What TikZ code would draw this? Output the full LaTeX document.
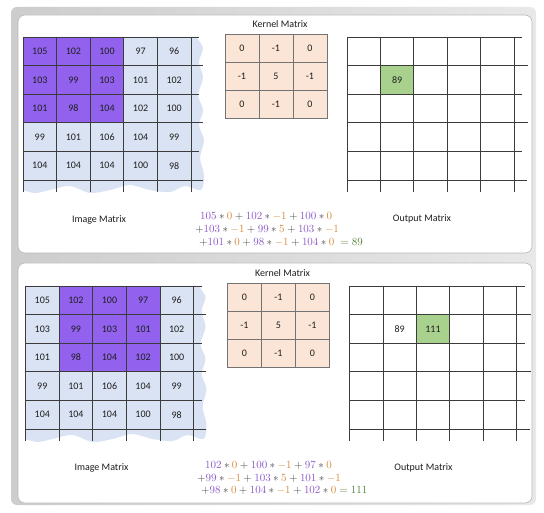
\documentclass[tikz,border=0pt]{standalone}
\usepackage[no-math]{fontspec}
\setmainfont{Carlito}
\definecolor{purp}{RGB}{146,98,238}
\definecolor{lblue}{RGB}{218,227,243}
\definecolor{peach}{RGB}{251,229,214}
\definecolor{gcell}{RGB}{169,209,142}
\definecolor{eqp}{RGB}{140,90,200}
\definecolor{eqo}{RGB}{214,140,60}
\definecolor{eqg}{RGB}{90,130,60}
\definecolor{eqk}{RGB}{70,70,70}
\definecolor{txt}{RGB}{30,30,30}
\definecolor{gridc}{RGB}{60,60,60}
\definecolor{bgdark}{RGB}{205,205,205}
\definecolor{bglight}{RGB}{232,232,232}
\newcommand\ip[1]{\textcolor{eqp}{#1}}
\newcommand\ko[1]{\textcolor{eqo}{#1}}
\newcommand\panelbox[2]{%
  \draw[gray!55,line width=0.6,fill=white,rounded corners=7] (18,#1) rectangle (532,#2);
}
\newcommand\imagematrix[2]{%
  \fill[lblue] (0,0) -- (173,0) -- plot[smooth] coordinates {(173,0)(180,11)(176,25)(180,41)(175,58)(180,73)(176,88)(181,103)(177,121)(181,138)(178,153)(162,149)(147,155)(127,153)(107,148)(87,153)(67,156)(47,149)(27,153)(12,156)(0,153)} -- cycle;
  \fill[purp] ({#2*33.6},0) rectangle ({#2*33.6+100.8},85.8);
  \foreach \yy/\ll in {0/176,28.6/180,57.2/176,85.8/180,114.4/176,143/180} {\draw[gridln] (0,\yy) -- (\ll,\yy);}
  \foreach \xx in {0,33.6,67.2,100.8,134.4,168} {\draw[gridln] (\xx,0) -- (\xx,155);}
  \foreach \rowvals [count=\r] in {{105,102,100,97,96},{103,99,103,101,102},{101,98,104,102,100},{99,101,106,104,99},{104,104,104,100,98}} {%
    \foreach \v [count=\c] in \rowvals {\node[num] (#1-\r-\c) at ({(\c-0.5)*33.6},{(\r-0.5)*28.6}) {\v};}}
}
\newcommand\kernelmatrix[1]{%
  \foreach \rowvals [count=\r] in {{0,-1,0},{-1,5,-1},{0,-1,0}} {%
    \foreach \v [count=\c] in \rowvals {\node[kcell] (#1-\r-\c) at ({(\c-0.5)*34},{(\r-0.5)*28}) {\v};}}
}
\newcommand\outputgrid{%
  \foreach \yy/\ll in {0/175,28.6/181,57.2/175,85.8/181,114.4/175,143/180} {\draw[gridln] (0,\yy) -- (\ll,\yy);}
  \foreach \xx in {0,33.4,66.8,100.2,133.6,167} {\draw[gridln] (\xx,0) -- (\xx,155);}
}
\begin{document}
\begin{tikzpicture}[x=1pt,y=-1pt,
  num/.style={text=txt,font=\fontsize{10}{12}\selectfont,inner sep=0pt},
  lbl/.style={text=txt,font=\fontsize{10}{12}\selectfont,inner sep=0pt},
  kcell/.style={draw=black!55,line width=0.6,fill=peach,minimum width=34pt,minimum height=28pt,inner sep=0pt,outer sep=0pt,text=txt,font=\fontsize{10}{12}\selectfont},
  gridln/.style={draw=gridc,line width=0.7},
  eq/.style={text=eqk,font=\fontsize{10.5}{12}\selectfont,inner sep=0pt,anchor=west}]
\useasboundingbox[fill=white] (0,0) rectangle (544,513);
% background frame
\shade[left color=bgdark,right color=bglight,rounded corners=6] (11,7) rectangle (536,505);

% ---------- panel 1 ----------
\panelbox{15}{253}
\begin{scope}[shift={(23,37)}]
  \imagematrix{a}{0}
\end{scope}
\node[lbl] (kla) at (280,24) {Kernel Matrix};
\begin{scope}[shift={(225,34)}]
  \kernelmatrix{ka}
\end{scope}
\begin{scope}[shift={(347,37)}]
  \fill[gcell] (33.4,28.6) rectangle (66.8,57.2);
  \outputgrid
  \node[num] (oa) at (50.1,42.9) {89};
\end{scope}
\node[lbl] (ila) at (99,220) {Image Matrix};
\node[lbl] (ola) at (422,219) {Output Matrix};
\node[eq] (ea1) at (200,216) {$\ip{105}\ast\ko{0}+\ip{102}\ast\ko{-1}+\ip{100}\ast\ko{0}$};
\node[eq] (ea2) at (195,229) {$+\ip{103}\ast\ko{-1}+\ip{99}\ast\ko{5}+\ip{103}\ast\ko{-1}$};
\node[eq] (ea3) at (199,242) {$+\ip{101}\ast\ko{0}+\ip{98}\ast\ko{-1}+\ip{104}\ast\ko{0}\;\mathrel{\textcolor{eqg}{=}}\textcolor{eqg}{89}$};

% ---------- panel 2 ----------
\panelbox{263}{503}
\begin{scope}[shift={(2.5,249)}]
  \begin{scope}[shift={(23,37)}]
    \imagematrix{b}{1}
  \end{scope}
  \node[lbl] (klb) at (280,24) {Kernel Matrix};
  \begin{scope}[shift={(225,34)}]
    \kernelmatrix{kb}
  \end{scope}
  \begin{scope}[shift={(347,37)}]
    \fill[gcell] (66.8,28.6) rectangle (100.2,57.2);
    \outputgrid
    \node[num] (ob1) at (50.1,42.9) {89};
    \node[num] (ob2) at (83.5,42.9) {111};
  \end{scope}
  \node[lbl] (ilb) at (99,219) {Image Matrix};
  \node[lbl] (olb) at (421,219) {Output Matrix};
  \node[eq] (eb1) at (202.5,216) {$\ip{102}\ast\ko{0}+\ip{100}\ast\ko{-1}+\ip{97}\ast\ko{0}$};
  \node[eq] (eb2) at (194.5,229) {$+\ip{99}\ast\ko{-1}+\ip{103}\ast\ko{5}+\ip{101}\ast\ko{-1}$};
  \node[eq] (eb3) at (198.5,241) {$+\ip{98}\ast\ko{0}+\ip{104}\ast\ko{-1}+\ip{102}\ast\ko{0}\mathrel{\textcolor{eqg}{=}}\textcolor{eqg}{111}$};
\end{scope}
\end{tikzpicture}
\end{document}
